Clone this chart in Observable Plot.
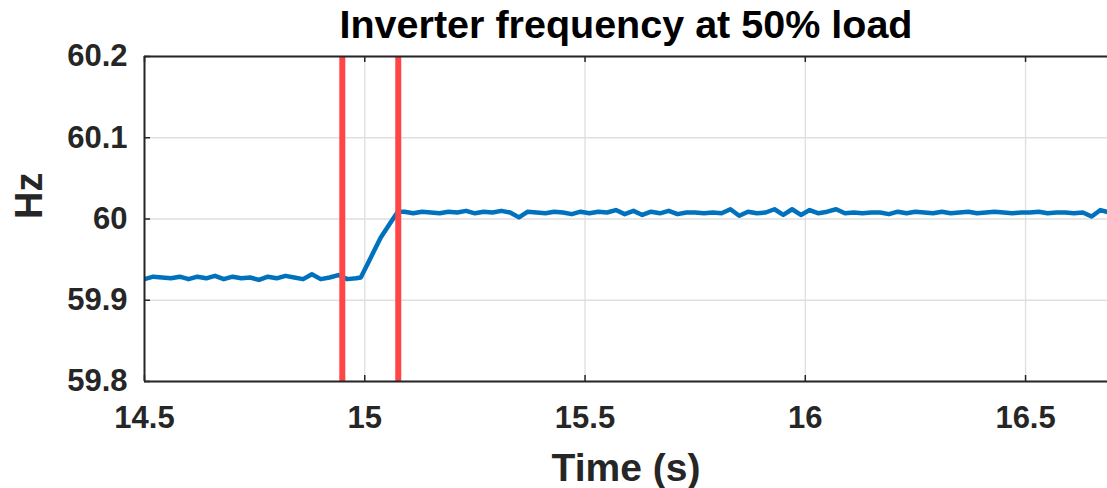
<!DOCTYPE html>
<html>
<head>
<meta charset="utf-8">
<script src="https://cdn.jsdelivr.net/npm/d3@7"></script>
<script src="https://cdn.jsdelivr.net/npm/@observablehq/plot@0.6"></script>
<style>
  html, body { margin: 0; padding: 0; background: #fff; }
  #chart svg { display: block; }
</style>
</head>
<body>
<div id="chart"></div>
<script>
const titleText = "Inverter frequency at 50% load";
const xLabel = "Time (s)";
const yLabel = "Hz";
const xTicks = [14.5, 15, 15.5, 16, 16.5];
const xTickLabels = ["14.5", "15", "15.5", "16", "16.5"];
const yTicks = [59.8, 59.9, 60, 60.1, 60.2];
const yTickLabels = ["59.8", "59.9", "60", "60.1", "60.2"];
const xDomain = [14.5, 16.686];
const yDomain = [59.8, 60.2];
const markerTimes = [14.949, 15.076];

const time = [
  14.50, 14.52, 14.54, 14.56, 14.58, 14.60, 14.62, 14.64, 14.66, 14.68,
  14.70, 14.72, 14.74, 14.76, 14.78, 14.80, 14.82, 14.84, 14.86, 14.88,
  14.90, 14.92, 14.94, 14.96, 14.98, 14.991, 15.014, 15.036, 15.059, 15.075,
  15.09, 15.11, 15.13, 15.15, 15.17, 15.19, 15.21, 15.23, 15.25, 15.27,
  15.29, 15.31, 15.33, 15.35, 15.37, 15.39, 15.41, 15.43, 15.45, 15.47,
  15.49, 15.51, 15.53, 15.55, 15.57, 15.59, 15.61, 15.63, 15.65, 15.67,
  15.69, 15.71, 15.73, 15.75, 15.77, 15.79, 15.81, 15.83, 15.85, 15.87,
  15.89, 15.91, 15.93, 15.95, 15.97, 15.99, 16.01, 16.03, 16.05, 16.07,
  16.09, 16.11, 16.13, 16.15, 16.17, 16.19, 16.21, 16.23, 16.25, 16.27,
  16.29, 16.31, 16.33, 16.35, 16.37, 16.39, 16.41, 16.43, 16.45, 16.47,
  16.49, 16.51, 16.53, 16.55, 16.57, 16.59, 16.61, 16.63, 16.65, 16.67,
  16.69
];
const freq = [
  59.926, 59.929, 59.928, 59.927, 59.929, 59.926, 59.929, 59.927, 59.930, 59.926,
  59.929, 59.927, 59.928, 59.925, 59.929, 59.927, 59.930, 59.928, 59.926, 59.932,
  59.926, 59.928, 59.931, 59.926, 59.927, 59.928, 59.953, 59.977, 59.996, 60.009,
  60.009, 60.007, 60.009, 60.008, 60.007, 60.009, 60.008, 60.010, 60.007, 60.009,
  60.008, 60.010, 60.008, 60.002, 60.009, 60.008, 60.007, 60.009, 60.008, 60.006,
  60.009, 60.007, 60.009, 60.008, 60.011, 60.006, 60.010, 60.005, 60.009, 60.007,
  60.010, 60.006, 60.008, 60.008, 60.007, 60.008, 60.007, 60.012, 60.004, 60.009,
  60.007, 60.008, 60.012, 60.005, 60.012, 60.005, 60.011, 60.007, 60.009, 60.012,
  60.007, 60.008, 60.007, 60.008, 60.008, 60.006, 60.009, 60.007, 60.009, 60.008,
  60.007, 60.009, 60.007, 60.008, 60.009, 60.007, 60.008, 60.009, 60.008, 60.007,
  60.008, 60.008, 60.009, 60.007, 60.008, 60.008, 60.007, 60.008, 60.003, 60.011,
  60.008
];

const series = time.map((t, i) => ({t, f: freq[i]}));

const W = 1107, H = 488;
const mL = 144, mR = 0, mT = 56, mB = 107;
const frameW = W - mL - mR, frameH = H - mT - mB;
const font = "'Liberation Sans', Arial, Helvetica, sans-serif";
const axisColor = "#262626";
const gridColor = "#dfdfdf";
const tickLen = 6;

const chart = Plot.plot({
  width: W,
  height: H,
  marginLeft: mL,
  marginRight: mR,
  marginTop: mT,
  marginBottom: mB,
  style: {fontFamily: font, background: "#fff", overflow: "hidden"},
  x: {domain: xDomain, axis: null},
  y: {domain: yDomain, axis: null},
  marks: [
    Plot.ruleX(xTicks, {stroke: gridColor, strokeWidth: 1.3}),
    Plot.ruleY(yTicks, {stroke: gridColor, strokeWidth: 1.3}),
    Plot.line(series, {x: "t", y: "f", stroke: "#0072BD", strokeWidth: 4.5, clip: true, curve: "linear", strokeLinejoin: "round"}),
    Plot.ruleX(markerTimes, {stroke: "#ff4545", strokeWidth: 6}),
    // frame lines (top, bottom, left)
    Plot.ruleY([yDomain[0], yDomain[1]], {stroke: axisColor, strokeWidth: 2}),
    Plot.ruleX([xDomain[0]], {stroke: axisColor, strokeWidth: 2}),
    // inward ticks
    Plot.tickX(xTicks, {x: d => d, stroke: axisColor, strokeWidth: 1.5, insetTop: frameH - tickLen}),
    Plot.tickX(xTicks, {x: d => d, stroke: axisColor, strokeWidth: 1.5, insetBottom: frameH - tickLen}),
    Plot.tickY(yTicks, {y: d => d, stroke: axisColor, strokeWidth: 1.5, insetRight: frameW - tickLen}),
    // tick labels
    Plot.axisX(xTicks, {tickSize: 0, tickPadding: 24, tickFormat: (d, i) => xTickLabels[i], fontSize: 31, fontWeight: "bold", fill: axisColor, label: null, anchor: "bottom"}),
    Plot.axisY(yTicks, {tickSize: 0, tickPadding: 17, tickFormat: (d, i) => yTickLabels[i], fontSize: 31, fontWeight: "bold", fill: axisColor, label: null, anchor: "left"}),
    // title and axis labels
    Plot.text([titleText], {frameAnchor: "top", dy: -31, fontSize: 39.5, fontWeight: "bold", fill: "#000", lineAnchor: "middle"}),
    Plot.text([xLabel], {frameAnchor: "bottom", dy: 87, fontSize: 39, fontWeight: "bold", fill: axisColor, lineAnchor: "middle"}),
    Plot.text([yLabel], {frameAnchor: "left", dx: -115, rotate: -90, fontSize: 38, fontWeight: "bold", fill: axisColor, lineAnchor: "middle"})
  ]
});
document.getElementById("chart").appendChild(chart);
</script>
</body>
</html>
